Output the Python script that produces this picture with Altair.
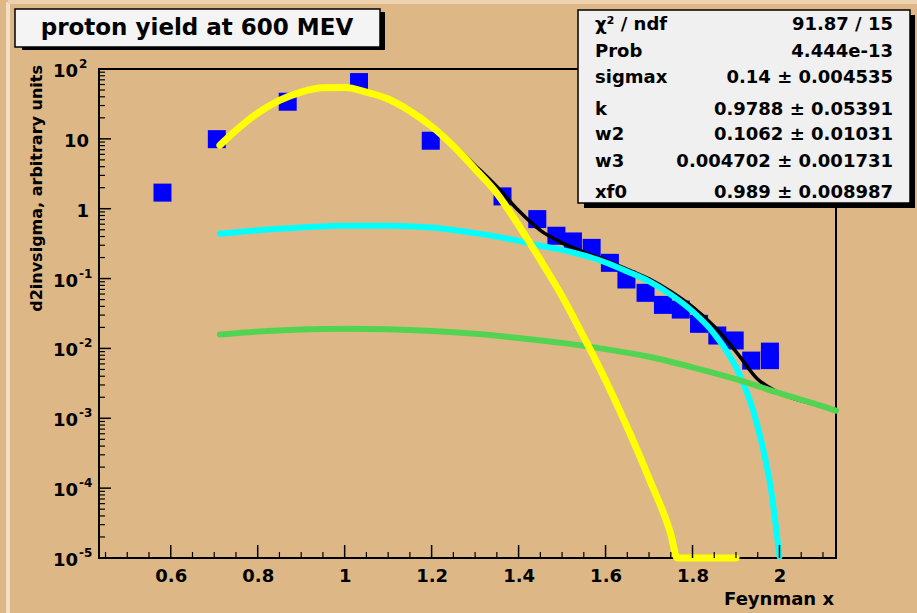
import altair as alt
import pandas as pd

# ---------------- data ----------------
pt_x = [0.581, 0.706, 0.869, 1.033, 1.198, 1.363, 1.443, 1.487, 1.525, 1.568, 1.610,
        1.648, 1.692, 1.732, 1.773, 1.815, 1.857, 1.897, 1.935, 1.978, 1.978]
pt_y = [1.70, 9.9, 34.0, 65.0, 9.4, 1.5, 0.71, 0.41, 0.34, 0.275, 0.168,
        0.097, 0.0625, 0.042, 0.036, 0.0225, 0.0153, 0.013, 0.0067, 0.0090, 0.0068]

yel_x = [0.713, 0.75, 0.80, 0.85, 0.90, 0.95, 1.00, 1.05, 1.10, 1.15, 1.20, 1.25, 1.30,
         1.35, 1.40, 1.45, 1.50, 1.55, 1.60, 1.65, 1.70, 1.75, 1.765, 1.90]
yel_y = [8.1, 13.2, 23.4, 35.5, 46.8, 53.7, 54.3, 46.8, 37.2, 25.1, 15.1, 7.9, 3.7,
         1.66, 0.58, 0.185, 0.056, 0.0145, 0.0035, 7.4e-4, 1.38e-4, 2.2e-5, 1e-5, 1e-5]

cyan_x = [0.713, 0.80, 0.90, 1.00, 1.10, 1.20, 1.30, 1.35, 1.40, 1.45, 1.50, 1.55, 1.60,
          1.65, 1.70, 1.75, 1.80, 1.85, 1.90, 1.92, 1.94, 1.96, 1.98, 2.00]
cyan_y = [0.437, 0.49, 0.537, 0.569, 0.569, 0.537, 0.447, 0.398, 0.347, 0.295, 0.257,
          0.214, 0.170, 0.126, 0.0912, 0.0589, 0.0339, 0.0162, 0.00537, 0.00282,
          0.00126, 4.2e-4, 1.0e-4, 1.05e-5]

green_x = [0.713, 0.80, 0.90, 1.00, 1.10, 1.20, 1.30, 1.40, 1.50, 1.60, 1.70, 1.80,
           1.90, 2.00, 2.10, 2.13]
green_y = [0.0158, 0.0174, 0.0186, 0.0191, 0.0188, 0.0178, 0.0162, 0.0141, 0.0120,
           0.00977, 0.00759, 0.00537, 0.00363, 0.00229, 0.00148, 0.00129]

tot_x = [0.713, 0.80, 0.90, 1.00, 1.10, 1.20, 1.30, 1.35, 1.40, 1.45, 1.50, 1.55, 1.60,
         1.65, 1.70, 1.75, 1.80, 1.85, 1.90, 1.95, 2.00, 2.10, 2.13]
tot_y = [8.6, 23.9, 47.3, 54.9, 37.8, 15.7, 4.16, 2.07, 0.94, 0.49, 0.325, 0.240, 0.184,
         0.135, 0.0989, 0.0653, 0.0393, 0.0206, 0.0090, 0.00362, 0.00230, 0.00148, 0.00129]

x_label_vals = [0.6, 0.8, 1.0, 1.2, 1.4, 1.6, 1.8, 2.0]
x_minor_vals = [0.45, 0.5, 0.55, 0.65, 0.7, 0.75, 0.85, 0.9, 0.95, 1.05, 1.1, 1.15,
                1.25, 1.3, 1.35, 1.45, 1.5, 1.55, 1.65, 1.7, 1.75, 1.85, 1.9, 1.95,
                2.05, 2.1]
y_decades = [1e-5, 1e-4, 1e-3, 1e-2, 1e-1, 1.0, 10.0, 100.0]
y_base = ["10", "10", "10", "10", "10", "1", "10", "10"]
y_exp = ["-5", "-4", "-3", "-2", "-1", "", "", "2"]
y_minor_vals = [k * d for d in y_decades[:-1] for k in range(2, 10)]

stat_names = ["χ² / ndf", "Prob", "sigmax", "k", "w2", "w3", "xf0"]
stat_values = ["91.87 / 15", "4.444e-13", "0.14 ± 0.004535", "0.9788 ± 0.05391",
               "0.1062 ± 0.01031", "0.004702 ± 0.001731", "0.989 ± 0.008987"]

title_text = "proton yield at 600 MEV"
ytitle_text = "d2invsigma, arbitrary units"
xtitle_text = "Feynman x"

# ---------------- layout / style ----------------
W, H = 737, 489
FONT = "DejaVu Sans"
BG = "#ddb886"
stat_rows_y = [-44, -17, 9, 41, 66, 93, 124]

xs = alt.Scale(domain=[0.435, 2.13], nice=False, zero=False)
ys = alt.Scale(type="log", domain=[1e-5, 100], nice=False)

one = pd.DataFrame({"a": [0]})

pts = pd.DataFrame({"x": pt_x, "y": pt_y})
points = alt.Chart(pts).mark_square(size=324, color="#0000ff", opacity=1, strokeWidth=0).encode(
    x=alt.X("x:Q", scale=xs, axis=alt.Axis(
        values=x_label_vals, format="~g", ticks=False, domain=False, grid=False,
        labelFont=FONT, labelFontWeight="bold", labelFontSize=18, labelColor="black",
        labelPadding=9, title=None)),
    y=alt.Y("y:Q", scale=ys, axis=None),
)


def curve(xv, yv, color, width):
    return alt.Chart(pd.DataFrame({"x": xv, "y": yv})).mark_line(
        color=color, strokeWidth=width, interpolate="monotone", strokeCap="round"
    ).encode(x=alt.X("x:Q", scale=xs), y=alt.Y("y:Q", scale=ys))


black = curve(tot_x, tot_y, "black", 3.5)
cyan = curve(cyan_x, cyan_y, "#00ffff", 6)
green = curve(green_x, green_y, "#52d452", 6)
yellow = curve(yel_x, yel_y, "#ffff00", 7)

ymaj = alt.Chart(pd.DataFrame({"v": y_decades})).mark_rule(color="black", strokeWidth=1.5).encode(
    y=alt.Y("v:Q", scale=ys), x=alt.value(0), x2=alt.value(12))
ymin = alt.Chart(pd.DataFrame({"v": y_minor_vals})).mark_rule(color="black", strokeWidth=1.2).encode(
    y=alt.Y("v:Q", scale=ys), x=alt.value(0), x2=alt.value(6))
xmaj = alt.Chart(pd.DataFrame({"v": x_label_vals})).mark_rule(color="black", strokeWidth=1.5).encode(
    x=alt.X("v:Q", scale=xs), y=alt.value(H), y2=alt.value(H - 13))
xmin = alt.Chart(pd.DataFrame({"v": x_minor_vals})).mark_rule(color="black", strokeWidth=1.2).encode(
    x=alt.X("v:Q", scale=xs), y=alt.value(H), y2=alt.value(H - 6))

ylab = pd.DataFrame({"v": y_decades, "base": y_base, "exp": y_exp})
ylab_plain = alt.Chart(ylab).transform_filter("datum.exp == ''").mark_text(
    font=FONT, fontWeight="bold", fontSize=18, align="right", baseline="middle", dy=3, color="black"
).encode(y=alt.Y("v:Q", scale=ys), x=alt.value(-10), text="base:N")
ylab_base = alt.Chart(ylab).transform_filter("datum.exp != ''").mark_text(
    font=FONT, fontWeight="bold", fontSize=18, align="right", baseline="middle", dy=3, color="black"
).encode(y=alt.Y("v:Q", scale=ys), x=alt.value(-21), text="base:N")
ylab_exp = alt.Chart(ylab).transform_filter("datum.exp != ''").mark_text(
    font=FONT, fontWeight="bold", fontSize=12, align="left", baseline="middle", dy=-5, color="black"
).encode(y=alt.Y("v:Q", scale=ys), x=alt.value(-20), text="exp:N")

ytitle = alt.Chart(one).mark_text(
    text=ytitle_text, font=FONT, fontWeight="bold", fontSize=16, angle=270,
    align="right", baseline="middle", color="black"
).encode(x=alt.value(-62), y=alt.value(-4))
xtitle = alt.Chart(one).mark_text(
    text=xtitle_text, font=FONT, fontWeight="bold", fontSize=18,
    align="right", baseline="middle", color="black"
).encode(x=alt.value(735), y=alt.value(531))

# canvas bevel lines
edge_left = alt.Chart(one).mark_rule(color="#f2dfc6", strokeWidth=4).encode(
    x=alt.value(-91), y=alt.value(-67), y2=alt.value(544))
edge_top = alt.Chart(one).mark_rule(color="#ecd2b0", strokeWidth=4).encode(
    x=alt.value(-91), x2=alt.value(818), y=alt.value(-67))

# title box
tshadow = alt.Chart(one).mark_rect(color="black").encode(
    x=alt.value(-77), x2=alt.value(286), y=alt.value(-57), y2=alt.value(-19))
tbox = alt.Chart(one).mark_rect(fill="#f4f4f4", stroke="black", strokeWidth=1.5).encode(
    x=alt.value(-84), x2=alt.value(281), y=alt.value(-60), y2=alt.value(-22))
ttext = alt.Chart(one).mark_text(
    text=title_text, font=FONT, fontWeight="bold", fontSize=23, align="center",
    baseline="middle", color="black"
).encode(x=alt.value(98), y=alt.value(-41))

# stats box
sshadow = alt.Chart(one).mark_rect(color="black").encode(
    x=alt.value(485), x2=alt.value(816), y=alt.value(-54), y2=alt.value(139))
sbox = alt.Chart(one).mark_rect(fill="#f0f0f0", stroke="black", strokeWidth=1.5).encode(
    x=alt.value(479), x2=alt.value(811), y=alt.value(-59), y2=alt.value(134))
stat_layers = []
for name, val, ry in zip(stat_names, stat_values, stat_rows_y):
    stat_layers.append(alt.Chart(one).mark_text(
        text=name, font=FONT, fontWeight="bold", fontSize=18, align="left",
        baseline="middle", color="black").encode(x=alt.value(496), y=alt.value(ry)))
    stat_layers.append(alt.Chart(one).mark_text(
        text=val, font=FONT, fontWeight="bold", fontSize=18, align="right",
        baseline="middle", color="black").encode(x=alt.value(794), y=alt.value(ry)))

chart = alt.layer(
    edge_left, edge_top,
    points, black, cyan, green, yellow,
    ymaj, ymin, xmaj, xmin,
    ylab_plain, ylab_base, ylab_exp, ytitle, xtitle,
    tshadow, tbox, ttext,
    sshadow, sbox, *stat_layers,
).properties(
    width=W, height=H,
    autosize=alt.AutoSizeParams(type="none"),
    padding={"left": 99, "top": 69, "right": 81, "bottom": 55},
).configure(background=BG).configure_view(stroke="black", strokeWidth=2)

chart.save("out.html", embed_options={"renderer": "svg", "actions": False})
